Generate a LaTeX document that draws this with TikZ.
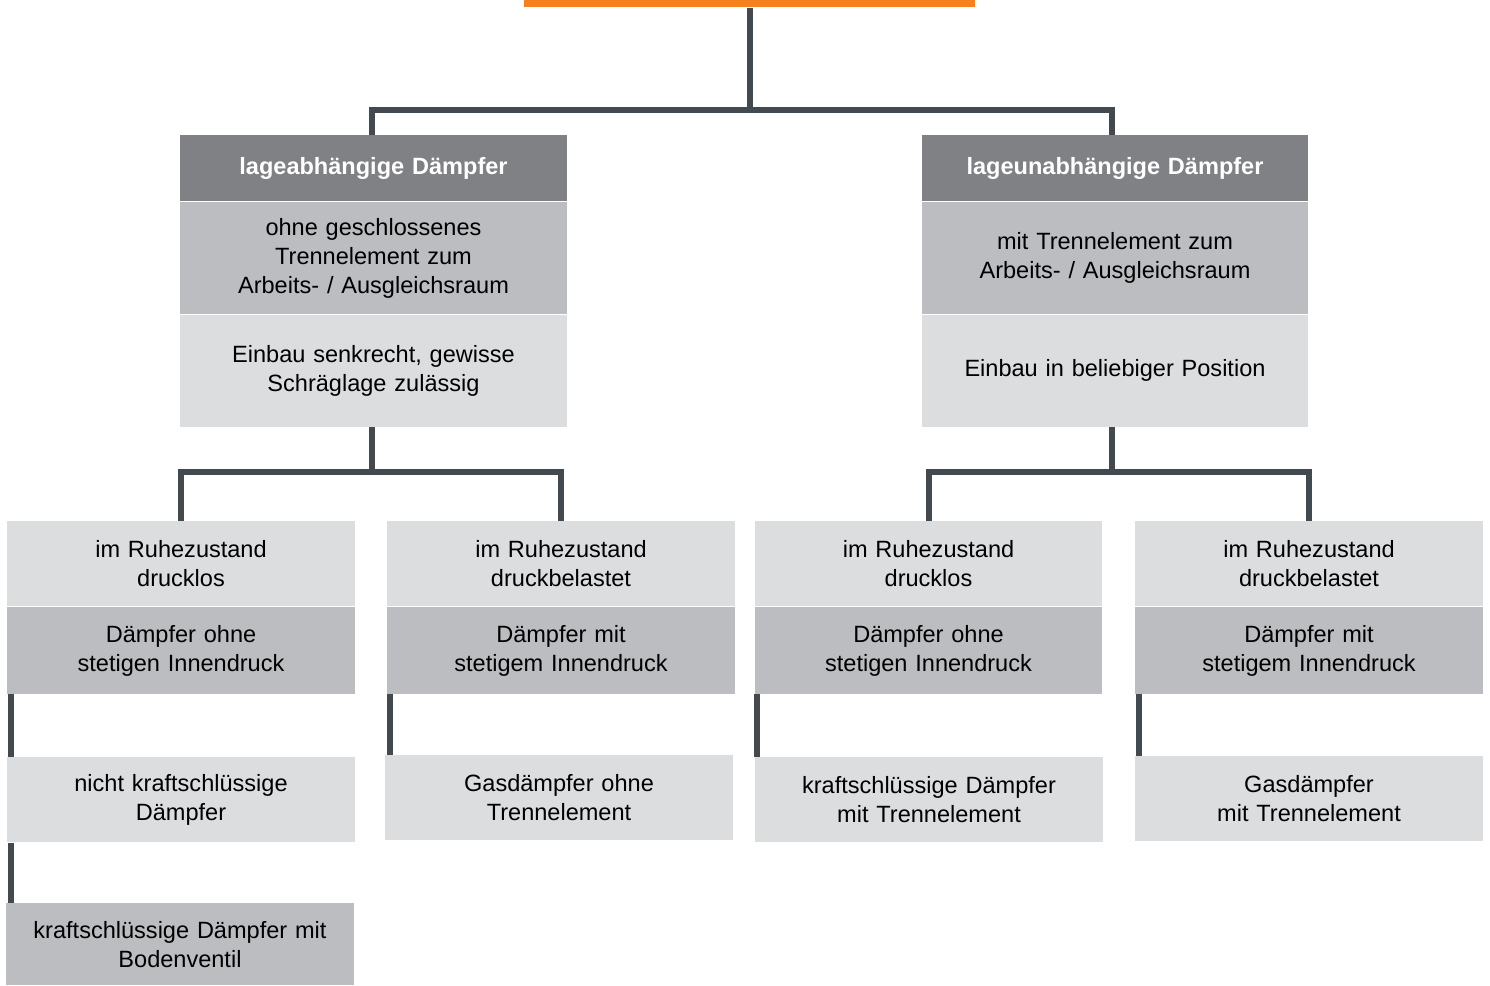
\documentclass[tikz,border=0pt]{standalone}
\usepackage{fontspec}
\setmainfont{Liberation Sans}
\usetikzlibrary{positioning}

\definecolor{bar}{HTML}{F7801E}
\definecolor{headgray}{HTML}{808184}
\definecolor{midgray}{HTML}{BCBDC0}
\definecolor{lightgray}{HTML}{DCDDDF}
\definecolor{linegray}{HTML}{42494F}

\tikzset{
  box/.style={inner sep=0pt, align=center, text width=#1, minimum width=#1,
    font=\fontsize{13.4}{16.5}\selectfont},
  head/.style={box=7.74cm, fill=headgray, text=white, minimum height=1.32cm,
    font=\fontsize{13.4}{16.5}\selectfont\bfseries},
  bigmid/.style={box=7.74cm, fill=midgray, minimum height=2.24cm},
  biglow/.style={box=7.74cm, fill=lightgray, minimum height=2.24cm},
  smalltop/.style={box=6.96cm, fill=lightgray, minimum height=1.7cm},
  smallmid/.style={box=6.96cm, fill=midgray, minimum height=1.74cm},
  conn/.style={draw=linegray, line width=0.12cm}
}

\begin{document}
\begin{tikzpicture}[x=0.02cm,y=-0.02cm,node distance=0pt]
	\useasboundingbox (0,0) rectangle (1490,985);

	\node[fill=bar, minimum width=9.02cm, minimum height=0.14cm, inner sep=0pt, anchor=north] (top) at (749.5,0) {};

	% zweite Ebene
	\node[head, anchor=north] (lab) at (373.5,135) {lageabhängige Dämpfer};
	\node[bigmid] (labtren) [below=of lab] {ohne geschlossenes\\Trennelement zum\\Arbeits- / Ausgleichsraum};
	\node[biglow] (labein) [below=of labtren] {Einbau senkrecht, gewisse\\Schräglage zulässig};

	\node[head, anchor=north] (lun) at (1115,135) {lageunabhängige Dämpfer};
	\node[bigmid] (luntren) [below=of lun] {mit Trennelement zum\\Arbeits- / Ausgleichsraum};
	\node[biglow] (lunein) [below=of luntren] {Einbau in beliebiger Position};

	% dritte Ebene
	\node[smalltop, anchor=north] (ruh1) at (181,521) {im Ruhezustand\\drucklos};
	\node[smallmid] (dae1) [below=of ruh1] {Dämpfer ohne\\stetigen Innendruck};
	\node[smalltop, anchor=north] (ruh2) at (561,521) {im Ruhezustand\\druckbelastet};
	\node[smallmid] (dae2) [below=of ruh2] {Dämpfer mit\\stetigem Innendruck};
	\node[smalltop, anchor=north] (ruh3) at (928.5,521) {im Ruhezustand\\drucklos};
	\node[smallmid] (dae3) [below=of ruh3] {Dämpfer ohne\\stetigen Innendruck};
	\node[smalltop, anchor=north] (ruh4) at (1309,521) {im Ruhezustand\\druckbelastet};
	\node[smallmid] (dae4) [below=of ruh4] {Dämpfer mit\\stetigem Innendruck};

	% unterste Ebene
	\node[smalltop, anchor=north] (nkd) at (181,757) {nicht kraftschlüssige\\Dämpfer};
	\node[smalltop, anchor=north] (gdo) at (559,755) {Gasdämpfer ohne\\Trennelement};
	\node[smalltop, anchor=north] (kdt) at (929,757) {kraftschlüssige Dämpfer\\mit Trennelement};
	\node[smalltop, anchor=north] (gdt) at (1309,756) {Gasdämpfer\\mit Trennelement};
	\node[box=6.96cm, fill=midgray, minimum height=1.64cm, anchor=north] (kdb) at (180,903) {kraftschlüssige Dämpfer mit\\Bodenventil};

	% Verbindungen
	\coordinate (j0) at (750,110);
	\coordinate (j1) at (372,472);
	\coordinate (j2) at (1112,472);
	\draw[conn] (j0 |- top.south) -- (j0);
	\draw[conn] (j1 |- lab.north) |- (j0) -| (j2 |- lun.north);
	\draw[conn] (j1 |- labein.south) -- (j1);
	\draw[conn] (ruh1.north) |- (j1) -| (ruh2.north);
	\draw[conn] (j2 |- lunein.south) -- (j2);
	\draw[conn] (ruh3.north) |- (j2) -| (ruh4.north);
	\draw[conn] ([xshift=0.08cm]dae1.south west) -- ([xshift=0.08cm]dae1.south west |- nkd.north);
	\draw[conn] ([xshift=0.08cm]nkd.south west) -- ([xshift=0.08cm]nkd.south west |- kdb.north);
	\draw[conn] ([xshift=0.07cm]dae2.south west) -- ([xshift=0.07cm]dae2.south west |- gdo.north);
	\draw[conn] ([xshift=0.06cm]dae3.south west) -- ([xshift=0.06cm]dae3.south west |- kdt.north);
	\draw[conn] ([xshift=0.08cm]dae4.south west) -- ([xshift=0.08cm]dae4.south west |- gdt.north);
\end{tikzpicture}
\end{document}
